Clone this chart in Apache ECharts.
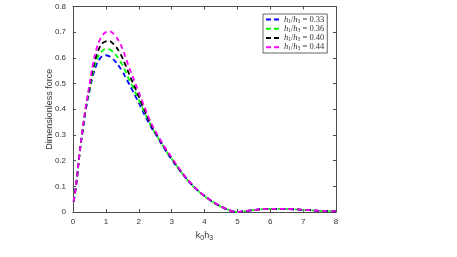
<!DOCTYPE html>
<html><head><meta charset="utf-8">
<script src="https://cdn.jsdelivr.net/npm/echarts@6/dist/echarts.min.js"></script>
<style>html,body{margin:0;padding:0;background:#fff}#c{width:457px;height:257px}</style>
</head><body><div id="c"></div>
<script>
const xs = [0.02,0.1,0.2,0.3,0.4,0.5,0.6,0.7,0.8,0.9,1.0,1.1,1.2,1.3,1.4,1.5,1.6,1.7,1.8,1.9,2.0,2.1,2.2,2.3,2.4,2.5,2.6,2.7,2.8,2.9,3.0,
  3.2,3.4,3.6,3.8,4.0,4.2,4.4,4.6,4.8,5.0,5.2,5.4,5.6,5.8,6.0,6.2,6.4,6.6,6.8,7.0,7.2,7.4,7.6,7.8,8.0];
const blue  = [0.04,0.11,0.225,0.32,0.405,0.47,0.527,0.568,0.594,0.607,0.61,0.606,0.597,0.584,0.567,0.548,0.524,0.50,0.475,0.45,0.425,0.398,0.372,0.348,0.325,0.305,0.284,0.263,0.243,0.223,0.205,
  0.170,0.137,0.108,0.083,0.062,0.044,0.028,0.015,0.005,0.0,0.003,0.006,0.009,0.011,0.012,0.012,0.012,0.011,0.010,0.008,0.007,0.005,0.004,0.003,0.002];
const green = [0.04,0.11,0.227,0.323,0.41,0.477,0.54,0.585,0.613,0.628,0.634,0.633,0.625,0.612,0.594,0.573,0.546,0.518,0.491,0.464,0.437,0.408,0.38,0.354,0.329,0.308,0.287,0.266,0.245,0.225,0.207,
  0.171,0.138,0.108,0.083,0.062,0.044,0.028,0.015,0.005,0.0,0.003,0.006,0.009,0.011,0.012,0.012,0.012,0.011,0.010,0.008,0.007,0.005,0.004,0.003,0.002];
const black = [0.04,0.11,0.228,0.327,0.415,0.485,0.553,0.603,0.638,0.657,0.664,0.665,0.657,0.644,0.625,0.601,0.571,0.539,0.509,0.48,0.45,0.419,0.389,0.36,0.334,0.312,0.29,0.268,0.248,0.228,0.209,
  0.172,0.139,0.109,0.084,0.063,0.044,0.028,0.015,0.005,0.0,0.003,0.006,0.009,0.011,0.012,0.012,0.012,0.011,0.010,0.008,0.007,0.005,0.004,0.003,0.002];
const magenta = [0.04,0.11,0.23,0.33,0.42,0.495,0.57,0.628,0.665,0.688,0.70,0.703,0.697,0.684,0.664,0.637,0.602,0.565,0.532,0.50,0.467,0.433,0.40,0.368,0.34,0.316,0.294,0.272,0.251,0.231,0.212,
  0.175,0.14,0.11,0.085,0.063,0.045,0.029,0.015,0.005,0.0,0.003,0.006,0.009,0.011,0.012,0.012,0.012,0.011,0.010,0.008,0.007,0.005,0.004,0.003,0.002];
const ratios = ['0.33','0.36','0.40','0.44'];
const colors = ['#0000ff','#00ff00','#000000','#ff00ff'];
const seriesVals = [blue, green, black, magenta];
const xTicks = [0,1,2,3,4,5,6,7,8];
const yTicks = [0,0.1,0.2,0.3,0.4,0.5,0.6,0.7,0.8];

const axisCol = '#4d4d4d';
const lblStyle = {color:'#333', fontSize:8, fontFamily:'Liberation Sans, Arial, sans-serif'};
const chart = echarts.init(document.getElementById('c'), null, {renderer:'canvas'});
const series = seriesVals.map((v,i)=>({
  name: ratios[i], type:'line', showSymbol:false, symbol:'none', smooth:true, animation:false,
  data: xs.map((x,j)=>[x, v[j]]),
  lineStyle:{color:colors[i], width:1.8, type:[5,3.5]},
  itemStyle:{color:colors[i]}
}));
const serif = 'Liberation Serif, DejaVu Serif, serif';
chart.setOption({
  animation:false,
  grid:{left:73, right:121, top:6.4, bottom:45, containLabel:false},
  xAxis:[
    {type:'value', min:0, max:8, interval:1, position:'bottom',
     axisLine:{show:true, onZero:false, lineStyle:{color:axisCol, width:1}},
     axisTick:{show:true, inside:true, length:3, lineStyle:{color:axisCol}},
     axisLabel:{...lblStyle, margin:6, formatter:v=>String(v)},
     splitLine:{show:false},
     name:'{n|k}{s|0}{n|h}{s|3}', nameLocation:'middle', nameGap:17, nameMoveOverlap:false,
     nameTextStyle:{rich:{n:{fontSize:9, color:'#333', fontFamily:'Liberation Sans, Arial, sans-serif'}, s:{fontSize:7, color:'#333', padding:[6,0,0,0], fontFamily:'Liberation Sans, Arial, sans-serif'}}}},
    {type:'value', min:0, max:8, interval:1, position:'top',
     axisLine:{show:true, onZero:false, lineStyle:{color:axisCol, width:1}},
     axisTick:{show:true, inside:true, length:3, lineStyle:{color:axisCol}},
     axisLabel:{show:false}, splitLine:{show:false}}
  ],
  yAxis:[
    {type:'value', min:0, max:0.8, interval:0.1, position:'left',
     axisLine:{show:true, onZero:false, lineStyle:{color:axisCol, width:1}},
     axisTick:{show:true, inside:true, length:3, lineStyle:{color:axisCol}},
     axisLabel:{...lblStyle, margin:7, formatter:v=>v===0?'0':v.toFixed(1)},
     splitLine:{show:false},
     name:'Dimensionless force', nameLocation:'middle', nameGap:19, nameMoveOverlap:false,
     nameTextStyle:{color:'#333', fontSize:9, fontFamily:'Liberation Sans, Arial, sans-serif'}},
    {type:'value', min:0, max:0.8, interval:0.1, position:'right',
     axisLine:{show:true, onZero:false, lineStyle:{color:axisCol, width:1}},
     axisTick:{show:true, inside:true, length:3, lineStyle:{color:axisCol}},
     axisLabel:{show:false}, splitLine:{show:false}}
  ],
  legend:{
    show:true, orient:'vertical', left:263, top:14, itemGap:0, itemWidth:13, itemHeight:2,
    icon:'path://M0,0h5v2h-5z M8,0h5v2h-5z',
    lineStyle:{width:0, opacity:0},
    backgroundColor:'#fff', borderColor:'#666', borderWidth:1, padding:[1,3,1,3], borderRadius:0,
    data: ratios,
    formatter: n=>'{i|h}{s|1}{n|/}{i|h}{s|3}{n| = '+n+'}',
    textStyle:{padding:[0,0,0,0], rich:{
      i:{fontFamily:serif, fontStyle:'italic', fontSize:8.5, lineHeight:8, color:'#333'},
      n:{fontFamily:serif, fontSize:8.5, lineHeight:8, color:'#333'},
      s:{fontFamily:serif, fontSize:5.5, lineHeight:9.5, verticalAlign:'bottom', color:'#333'}
    }}
  },
  series: series
});
</script></body></html>
